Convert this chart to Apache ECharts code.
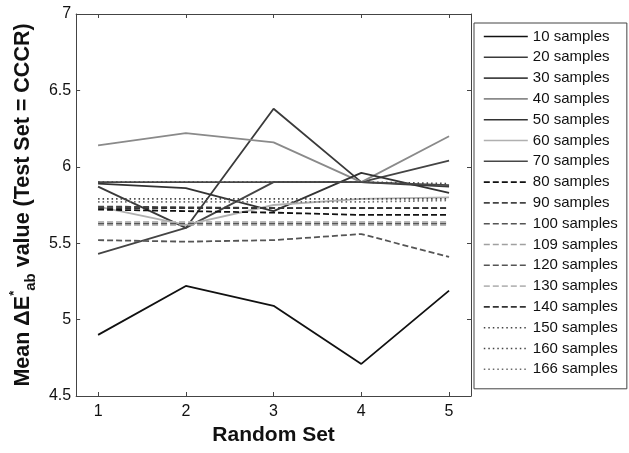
<!DOCTYPE html>
<html>
<head>
<meta charset="utf-8">
<script src="https://cdn.jsdelivr.net/npm/echarts@6/dist/echarts.min.js"></script>
<style>
  html, body { margin: 0; padding: 0; background: #fff; }
  #chart { width: 629px; height: 453px; }
</style>
</head>
<body>
<div id="chart"></div>
<script>
// Random set index along the x axis
const randomSets = [1, 2, 3, 4, 5];

// Series names (training set sizes)
const sampleNames = [
  '10 samples', '20 samples', '30 samples', '40 samples', '50 samples',
  '60 samples', '70 samples', '80 samples', '90 samples', '100 samples',
  '109 samples', '120 samples', '130 samples', '140 samples',
  '150 samples', '160 samples', '166 samples'
];

// Mean colour difference for each random set
const s10  = [4.90, 5.22, 5.09, 4.71, 5.19];
const s20  = [5.87, 5.60, 6.38, 5.90, 5.87];
const s30  = [5.43, 5.60, 5.90, 5.90, 6.04];
const s40  = [6.14, 6.22, 6.16, 5.90, 6.20];
const s50  = [5.89, 5.86, 5.71, 5.96, 5.83];
const s60  = [5.74, 5.62, 5.75, 5.79, 5.80];
const s70  = [5.90, 5.90, 5.90, 5.90, 5.88];
const s80  = [5.72, 5.71, 5.70, 5.685, 5.685];
const s90  = [5.74, 5.735, 5.73, 5.73, 5.73];
const s100 = [5.63, 5.63, 5.63, 5.63, 5.63];
const s109 = [5.62, 5.62, 5.62, 5.62, 5.62];
const s120 = [5.52, 5.51, 5.52, 5.56, 5.41];
const s130 = [5.64, 5.64, 5.64, 5.64, 5.64];
const s140 = [5.73, 5.73, 5.73, 5.73, 5.73];
const s150 = [5.90, 5.90, 5.90, 5.90, 5.89];
const s160 = [5.79, 5.79, 5.79, 5.79, 5.79];
const s166 = [5.77, 5.77, 5.77, 5.77, 5.78];

const seriesValues = [s10, s20, s30, s40, s50, s60, s70, s80, s90, s100,
  s109, s120, s130, s140, s150, s160, s166];

// Line appearance per series
const lineColors = [
  '#111111', '#3a3a3a', '#444444', '#8a8a8a', '#333333', '#b0b0b0', '#474747',
  '#111111', '#444444', '#555555', '#a0a0a0', '#555555', '#b8b8b8', '#333333',
  '#444444', '#444444', '#6a6a6a'
];
const lineTypes = [
  'solid', 'solid', 'solid', 'solid', 'solid', 'solid', 'solid',
  'dashed', 'dashed', 'dashed', 'dashed', 'dashed', 'dashed', 'dashed',
  'dotted', 'dotted', 'dotted'
];

const FONT = 'Liberation Sans, Arial, Helvetica, sans-serif';
const dashFor = t => t === 'dashed' ? [6, 3] : (t === 'dotted' ? [1.5, 3] : 'solid');

const series = sampleNames.map((name, i) => ({
  name: name,
  type: 'line',
  symbol: 'none',
  animation: false,
  data: randomSets.map((x, k) => [x, seriesValues[i][k]]),
  lineStyle: { color: lineColors[i], width: 1.8, type: dashFor(lineTypes[i]) },
  itemStyle: { color: lineColors[i] }
}));

const boxLine = { show: true, onZero: false, lineStyle: { color: '#444', width: 1 } };
const innerTick = (vals) => ({ show: true, inside: true, length: 4, customValues: vals, lineStyle: { color: '#444' } });

const chart = echarts.init(document.getElementById('chart'), null, { renderer: 'canvas' });
chart.setOption({
  backgroundColor: '#fff',
  animation: false,
  grid: { left: 76, right: 158, top: 14, bottom: 57 },
  legend: {
    orient: 'vertical',
    left: 474,
    top: 23,
    itemWidth: 44,
    itemHeight: 14,
    itemGap: 5.8,
    padding: [6, 9, 12, 9],
    borderColor: '#444',
    borderWidth: 1,
    backgroundColor: '#fff',
    data: sampleNames,
    itemStyle: { opacity: 0 },
    lineStyle: { width: 1.6 },
    textStyle: { fontFamily: FONT, fontSize: 15, color: '#111' }
  },
  xAxis: [{
    type: 'value',
    min: 0.75,
    max: 5.25,
    position: 'bottom',
    axisLine: boxLine,
    axisTick: innerTick(randomSets),
    axisLabel: { customValues: randomSets, margin: 8, fontFamily: FONT, fontSize: 16, color: '#111' },
    splitLine: { show: false },
    name: 'Random Set',
    nameLocation: 'middle',
    nameGap: 28,
    nameTextStyle: { fontFamily: FONT, fontSize: 21, fontWeight: 'bold', color: '#111' }
  }, {
    type: 'value',
    min: 0.75,
    max: 5.25,
    position: 'top',
    axisLine: boxLine,
    axisTick: innerTick(randomSets),
    axisLabel: { show: false },
    splitLine: { show: false }
  }],
  yAxis: [{
    type: 'value',
    min: 4.5,
    max: 7,
    interval: 0.5,
    position: 'left',
    axisLine: boxLine,
    axisTick: { show: true, inside: true, length: 4, lineStyle: { color: '#444' } },
    axisLabel: { margin: 5, fontFamily: FONT, fontSize: 16, color: '#111', formatter: v => String(v) },
    splitLine: { show: false },
    name: '{t|Mean \u0394E}{sup|*}{sub|ab}{t| value (Test Set = CCCR)}',
    nameLocation: 'middle',
    nameRotate: 90,
    nameGap: 26,
    nameTextStyle: {
      fontFamily: FONT,
      fontWeight: 'bold',
      color: '#111',
      rich: {
        t:   { fontFamily: FONT, fontSize: 21.5, fontWeight: 'bold', color: '#111', lineHeight: 30 },
        sup: { fontFamily: FONT, fontSize: 13, fontWeight: 'bold', color: '#111', lineHeight: 14, verticalAlign: 'top' },
        sub: { fontFamily: FONT, fontSize: 15, fontWeight: 'bold', color: '#111', lineHeight: 14, verticalAlign: 'bottom' }
      }
    }
  }, {
    type: 'value',
    min: 4.5,
    max: 7,
    interval: 0.5,
    position: 'right',
    axisLine: boxLine,
    axisTick: { show: true, inside: true, length: 4, lineStyle: { color: '#444' } },
    axisLabel: { show: false },
    splitLine: { show: false }
  }],
  series: series
});
</script>
</body>
</html>
